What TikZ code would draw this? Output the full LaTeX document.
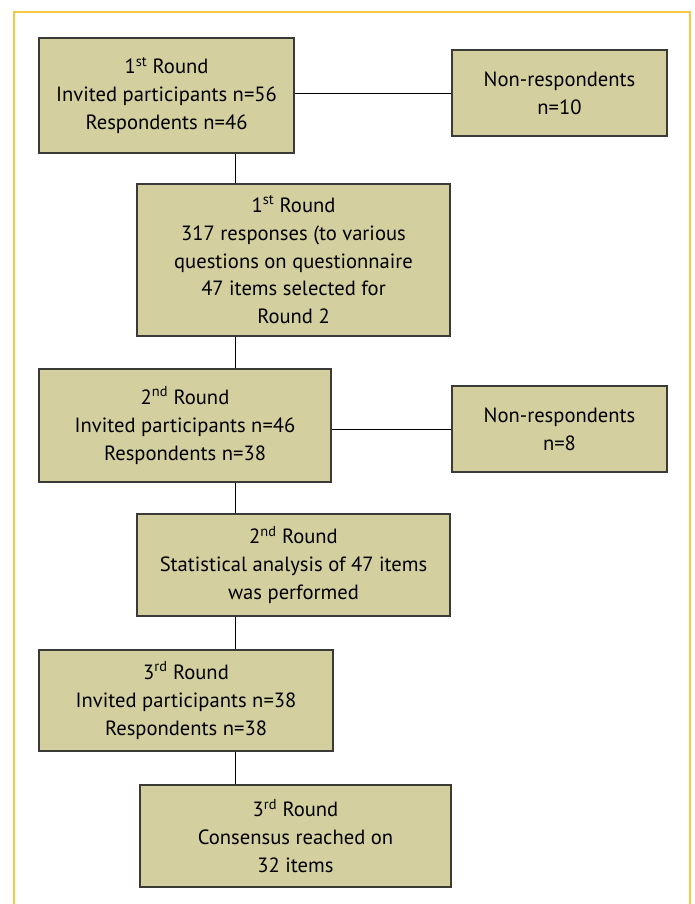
\documentclass[tikz,border=0pt]{standalone}
\usepackage{fontspec}
\setmainfont{PT Sans}
\usetikzlibrary{positioning}
\definecolor{boxfill}{HTML}{D3CF9F}
\definecolor{boxline}{HTML}{3A3A36}
\definecolor{frameyellow}{HTML}{F6C944}
\tikzset{
	flownode/.style = {align=center, inner sep=0pt, text centered,
		font=\fontsize{20.6}{27.8}\selectfont},
	rnd_box/.style = {flownode, rectangle, draw=boxline, fill=boxfill,
		line width=1.2pt},% round box
	nr_box/.style = {rnd_box},% non-respondents box
	link/.style = {draw=black, line width=0.9pt}
}
\begin{document}
\begin{tikzpicture}[x=1pt,y=-1pt]
			\useasboundingbox (0,0) rectangle (694,904);
			\draw[frameyellow, line width=1.4pt] (14,904) -- (14,12) -- (690,12) -- (690,904);
			\coordinate (spine) at (235,0);
			\node [rnd_box, minimum width=255pt, minimum height=115pt] (r1) at (166.5,95.5)
				{1\textsuperscript{st} Round\\Invited participants n=56\\Respondents n=46};
			\node [nr_box, minimum width=215pt, minimum height=86pt] (nr1) at (559.5,93)
				{Non-respondents\\n=10};
			\node [rnd_box, minimum width=313pt, minimum height=152pt] (r1res) at (293.5,260)
				{1\textsuperscript{st} Round\\317 responses (to various\\questions on questionnaire\\47 items selected for\\Round 2};
			\node [rnd_box, minimum width=292pt, minimum height=113pt] (r2) at (185,425.5)
				{2\textsuperscript{nd} Round\\Invited participants n=46\\Respondents n=38};
			\node [nr_box, minimum width=215pt, minimum height=86pt] (nr2) at (559.5,429)
				{Non-respondents\\n=8};
			\node [rnd_box, minimum width=313pt, minimum height=102pt] (r2res) at (293.5,565)
				{2\textsuperscript{nd} Round\\Statistical analysis of 47 items\\was performed};
			\node [rnd_box, minimum width=294pt, minimum height=101pt] (r3) at (186,700.5)
				{3\textsuperscript{rd} Round\\Invited participants n=38\\Respondents n=38};
			\node [rnd_box, minimum width=311pt, minimum height=102pt] (r3res) at (295.5,836)
				{3\textsuperscript{rd} Round\\Consensus reached on\\32 items};
			% connectors
			\draw[link] (r1.east |- nr1.west) -- (nr1.west);
			\draw[link] (r2.east |- nr2.west) -- (nr2.west);
			\draw[link] (spine |- r1.south) -- (spine |- r1res.north);
			\draw[link] (spine |- r1res.south) -- (spine |- r2.north);
			\draw[link] (spine |- r2.south) -- (spine |- r2res.north);
			\draw[link] (spine |- r2res.south) -- (spine |- r3.north);
			\draw[link] (spine |- r3.south) -- (spine |- r3res.north);
\end{tikzpicture}
\end{document}
